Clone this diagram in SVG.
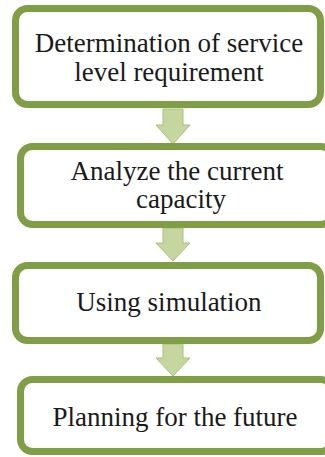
<svg xmlns="http://www.w3.org/2000/svg" width="325" height="457" viewBox="0 0 325 457">
<defs>
<style>
.box{fill:#fff;stroke:#7f9e45;stroke-width:7}
.arr{fill:#c5d79f;stroke:#a9bf7c;stroke-width:1}
.t{font-family:'Liberation Serif','Times New Roman',Times,serif;font-size:27px;fill:#1a1a1a;text-anchor:middle}
</style>
</defs>
<rect width="325" height="457" fill="#fff"/>
<g id="connectors">
<polygon class="arr" points="163,109 183,109 183,125 190,125 173,144 156,125 163,125"/>
<polygon class="arr" points="163,228 183,228 183,243 190,243 173,261 156,243 163,243"/>
<polygon class="arr" points="163,344 183,344 183,358 190,358 173,376 156,358 163,358"/>
</g>
<g id="node1">
<rect class="box" x="15.5" y="8.5" width="305" height="96" rx="12"/>
<text class="t" x="169" y="52">Determination of service</text>
<text class="t" x="169" y="81">level requirement</text>
</g>
<g id="node2">
<rect class="box" x="20.5" y="146.5" width="312" height="78" rx="12"/>
<text class="t" x="177" y="180">Analyze the current</text>
<text class="t" x="181" y="208">capacity</text>
</g>
<g id="node3">
<rect class="box" x="15.5" y="265.5" width="305" height="75" rx="12"/>
<text class="t" x="169" y="311">Using simulation</text>
</g>
<g id="node4">
<rect class="box" x="20.5" y="379.5" width="312" height="72" rx="12"/>
<text class="t" x="175" y="426">Planning for the future</text>
</g>
</svg>
